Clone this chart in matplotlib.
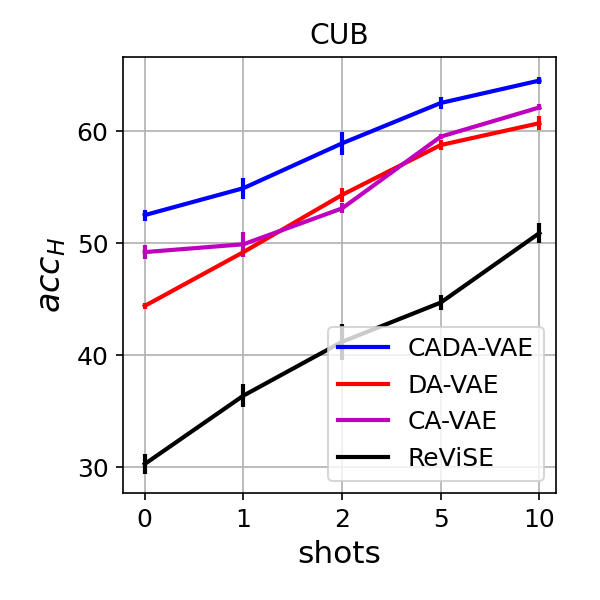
import matplotlib
matplotlib.use('Agg')
import matplotlib.pyplot as plt
import numpy as np

shots = ['0', '1', '2', '5', '10']

cada_vae = [52.5, 54.9, 58.9, 62.5, 64.5]
cada_vae_err = [0.5, 0.95, 1.05, 0.5, 0.35]

da_vae = [44.4, 49.2, 54.3, 58.75, 60.7]
da_vae_err = [0.3, 0.3, 0.65, 0.45, 0.6]

ca_vae = [49.2, 49.9, 53.1, 59.5, 62.1]
ca_vae_err = [0.6, 1.1, 0.45, 0.2, 0.27]

revise = [30.3, 36.4, 41.2, 44.7, 50.9]
revise_err = [0.9, 1.05, 1.6, 0.7, 0.9]

x = np.arange(len(shots))

fig = plt.figure(figsize=(4, 4), dpi=150)
ax = fig.add_axes([0.205, 0.178, 0.722, 0.727])

ax.errorbar(x, cada_vae, yerr=cada_vae_err, color='b', lw=2, label='CADA-VAE')
ax.errorbar(x, da_vae, yerr=da_vae_err, color='r', lw=2, label='DA-VAE')
ax.errorbar(x, ca_vae, yerr=ca_vae_err, color='m', lw=2, label='CA-VAE')
ax.errorbar(x, revise, yerr=revise_err, color='k', lw=2, label='ReViSE')

ax.set_xticks(x)
ax.set_xticklabels(shots)
ax.set_xlim(-0.22, 4.17)
ax.set_ylim(27.7, 66.6)
ax.set_yticks([30, 40, 50, 60])
ax.tick_params(labelsize=12)
ax.grid(True)
ax.set_xlabel('shots', fontsize=15)
ax.set_ylabel('$acc_H$', fontsize=16)
ax.set_title('CUB', fontsize=13.5)

# legend handles without error bars
handles, labels = ax.get_legend_handles_labels()
handles = [h[0] for h in handles]
ax.legend(handles, labels, loc='lower right', fontsize=12)

fig.savefig('out.png')
